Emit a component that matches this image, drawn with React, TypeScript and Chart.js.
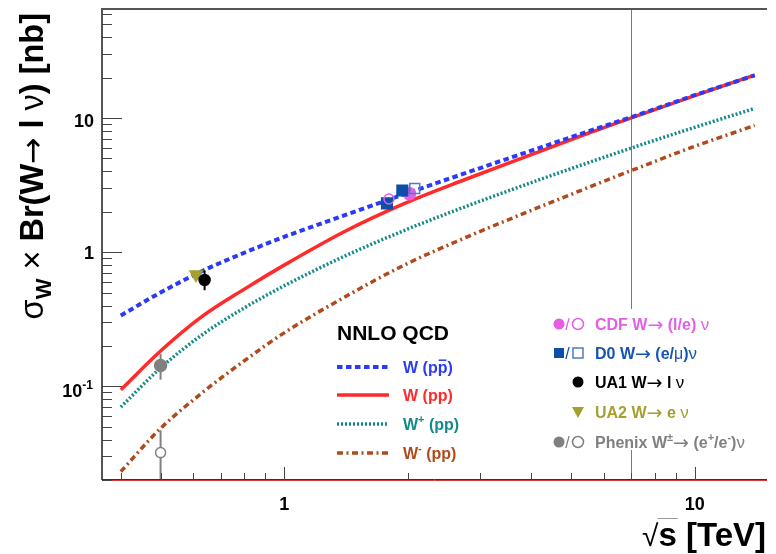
import React, { useEffect, useRef } from "react";
import { Chart, registerables } from "chart.js";
Chart.register(...registerables);

// ---- data ----
const sqrtS = [0.4, 0.5, 0.63, 0.8, 1.0, 1.4, 1.96, 2.76, 4, 5.5, 7.5, 10, 14];
const wPPbar = [0.337, 0.5, 0.72, 0.99, 1.3, 1.88, 2.7, 3.88, 5.71, 7.95, 10.9, 14.8, 20.8];
const wPP = [0.094, 0.183, 0.33, 0.53, 0.8, 1.42, 2.3, 3.48, 5.33, 7.7, 10.8, 14.7, 20.9];
const wPlus = [0.07, 0.137, 0.241, 0.384, 0.561, 0.93, 1.45, 2.18, 3.3, 4.64, 6.4, 8.52, 11.8];
const wMinus = [0.0231, 0.0485, 0.089, 0.155, 0.25, 0.46, 0.8, 1.28, 2.05, 3.03, 4.4, 6.15, 8.8];

const cdfFilledX = [2.02];
const cdfFilledY = [2.72];
const cdfOpenX = [1.8];
const cdfOpenY = [2.49];
const d0FilledX = [1.78, 1.94];
const d0FilledY = [2.31, 2.88];
const d0OpenX = [2.08];
const d0OpenY = [2.98];
const ua1X = [0.64];
const ua1Y = [0.62];
const ua1Lo = [0.52];
const ua1Hi = [0.73];
const ua2X = [0.61];
const ua2Y = [0.68];
const phenixFilledX = [0.5];
const phenixFilledY = [0.143];
const phenixFilledLo = [0.112];
const phenixFilledHi = [0.174];
const phenixOpenX = [0.5];
const phenixOpenY = [0.032];
const phenixOpenLo = [0.015];
const phenixOpenHi = [0.047];

const lhcEnergy = 7;
const xMin = 0.36;
const xMax = 15;
const yMin = 0.02;
const yMax = 65;
const xMajor = [1, 10];
const yMajor = [0.1, 1, 10];

// ---- styles ----
const SANS = '"Liberation Sans", Arial, Helvetica, sans-serif';
const SYMF = '"DejaVu Sans", sans-serif';
const C_BLUE = "#2b3bf5";
const C_RED = "#ff2a2a";
const C_TEAL = "#168a8a";
const C_BROWN = "#b04a1c";
const C_CDF = "#e25fe6";
const C_D0 = "#0d4fa8";
const C_D0_OPEN = "#4d7dc4";
const C_D0_TEXT = "#1753b3";
const C_UA2 = "#a5a02e";
const C_PHENIX = "#808080";

const DASH_BLUE = [5.5, 3.5];
const DASH_TEAL = [2, 2];
const DASH_BROWN = [6, 3.5, 2, 3.5];

type Run = { t: string; size: number; bold?: boolean; dy?: number; color?: string; over?: boolean; family?: string };

function fontOf(r: Run) {
  return `${r.bold === false ? "" : "bold "}${r.size}px ${r.family || SANS}`;
}

function runsWidth(ctx: CanvasRenderingContext2D, runs: Run[]) {
  let w = 0;
  for (const r of runs) {
    ctx.font = fontOf(r);
    w += ctx.measureText(r.t).width;
  }
  return w;
}

function drawRuns(ctx: CanvasRenderingContext2D, runs: Run[], x: number, y: number, color: string) {
  let cx = x;
  ctx.textBaseline = "alphabetic";
  ctx.textAlign = "left";
  for (const r of runs) {
    ctx.font = fontOf(r);
    ctx.fillStyle = r.color || color;
    ctx.fillText(r.t, cx, y + (r.dy || 0));
    const w = ctx.measureText(r.t).width;
    if (r.over) {
      ctx.save();
      ctx.strokeStyle = r.color || color;
      ctx.lineWidth = 1.5;
      ctx.beginPath();
      ctx.moveTo(cx + 1, y + (r.dy || 0) - r.size * 0.8);
      ctx.lineTo(cx + w - 1, y + (r.dy || 0) - r.size * 0.8);
      ctx.stroke();
      ctx.restore();
    }
    cx += w;
  }
  return cx - x;
}

function pts(xs: number[], ys: number[]) {
  return xs.map((x, i) => ({ x, y: ys[i] }));
}

function drawMarker(ctx: CanvasRenderingContext2D, kind: string, x: number, y: number, color: string) {
  ctx.save();
  ctx.fillStyle = color;
  ctx.strokeStyle = color;
  ctx.lineWidth = 1.5;
  ctx.beginPath();
  if (kind === "circle") {
    ctx.arc(x, y, 5.5, 0, Math.PI * 2);
    ctx.fill();
  } else if (kind === "ocircle") {
    ctx.arc(x, y, 5.5, 0, Math.PI * 2);
    ctx.stroke();
  } else if (kind === "square") {
    ctx.rect(x - 5, y - 5, 10, 10);
    ctx.fill();
  } else if (kind === "osquare") {
    ctx.rect(x - 5, y - 5, 10, 10);
    ctx.stroke();
  } else if (kind === "tri") {
    ctx.moveTo(x - 6, y - 5);
    ctx.lineTo(x + 6, y - 5);
    ctx.lineTo(x, y + 6);
    ctx.closePath();
    ctx.fill();
  }
  ctx.restore();
}

const rootPlugin = {
  id: "rootStyle",
  beforeDatasetsDraw(chart: any) {
    const { ctx, chartArea, scales } = chart;
    const px = Math.round(scales.x.getPixelForValue(lhcEnergy)) + 0.5;
    ctx.save();
    ctx.strokeStyle = "#7a7a7a";
    ctx.lineWidth = 1;
    ctx.beginPath();
    ctx.moveTo(px, chartArea.top);
    ctx.lineTo(px, chartArea.bottom);
    ctx.stroke();
    ctx.restore();
  },
  beforeDatasetDraw(chart: any, args: any) {
    const ds = chart.data.datasets[args.index];
    if (!ds.errLo) return;
    const { ctx, chartArea, scales } = chart;
    ctx.save();
    ctx.beginPath();
    ctx.rect(chartArea.left, chartArea.top, chartArea.right - chartArea.left, chartArea.bottom - chartArea.top);
    ctx.clip();
    ctx.strokeStyle = ds.errColor;
    ctx.lineWidth = 2;
    ds.data.forEach((p: any, i: number) => {
      const x = scales.x.getPixelForValue(p.x);
      ctx.beginPath();
      ctx.moveTo(x, scales.y.getPixelForValue(ds.errLo[i]));
      ctx.lineTo(x, scales.y.getPixelForValue(ds.errHi[i]));
      ctx.stroke();
    });
    ctx.restore();
  },
  afterDraw(chart: any) {
    const { ctx, chartArea, scales } = chart;
    const xs = scales.x;
    const ys = scales.y;
    const L = chartArea.left;
    const T = chartArea.top;
    const B = chartArea.bottom;
    const R = chartArea.right;
    ctx.save();

    // frame
    ctx.strokeStyle = "#555";
    ctx.lineWidth = 2;
    ctx.beginPath();
    ctx.moveTo(L, B);
    ctx.lineTo(L, T);
    ctx.lineTo(R, T);
    ctx.stroke();
    ctx.lineWidth = 1;
    ctx.strokeStyle = "#333";
    ctx.beginPath();
    ctx.moveTo(L, B - 0.5);
    ctx.lineTo(R, B - 0.5);
    ctx.stroke();
    ctx.strokeStyle = "#d43a3a";
    ctx.beginPath();
    ctx.moveTo(L, B + 0.5);
    ctx.lineTo(R, B + 0.5);
    ctx.stroke();

    // y ticks
    ctx.strokeStyle = "#444";
    ctx.lineWidth = 1;
    for (let d = -2; d <= 1; d++) {
      for (let m = 1; m <= 9; m++) {
        const v = m * Math.pow(10, d);
        if (v < yMin || v > yMax) continue;
        const py = Math.round(ys.getPixelForValue(v)) + 0.5;
        const len = m === 1 ? 20 : 10;
        ctx.beginPath();
        ctx.moveTo(L, py);
        ctx.lineTo(L + len, py);
        ctx.stroke();
      }
    }
    // x ticks
    for (let d = -1; d <= 1; d++) {
      for (let m = 1; m <= 9; m++) {
        const v = m * Math.pow(10, d);
        if (v < xMin || v > xMax) continue;
        const px = Math.round(xs.getPixelForValue(v)) + 0.5;
        const len = m === 1 ? 13 : 7;
        ctx.beginPath();
        ctx.moveTo(px, B);
        ctx.lineTo(px, B - len);
        ctx.stroke();
      }
    }

    // tick labels
    ctx.fillStyle = "#000";
    ctx.textBaseline = "alphabetic";
    ctx.font = `bold 18px ${SANS}`;
    const yLab = (v: number) => ys.getPixelForValue(v);
    ctx.textAlign = "right";
    ctx.fillText("10", 94, yLab(yMajor[2]) + 9);
    ctx.fillText("1", 94, yLab(yMajor[1]) + 7);
    {
      const runs: Run[] = [
        { t: "10", size: 18 },
        { t: "-1", size: 12, dy: -8 },
      ];
      const w = runsWidth(ctx, runs);
      drawRuns(ctx, runs, 93 - w, yLab(yMajor[0]) + 11, "#000");
    }
    ctx.textAlign = "center";
    ctx.font = `bold 18px ${SANS}`;
    ctx.fillStyle = "#000";
    ctx.fillText("1", xs.getPixelForValue(xMajor[0]), 510);
    ctx.fillText("10", xs.getPixelForValue(xMajor[1]), 510);

    // y title (rotated)
    {
      const S = 32.5;
      const runs: Run[] = [
        { t: "σ", size: S, bold: false },
        { t: "W", size: 22, dy: 8 },
        { t: " × ", size: S, bold: false },
        { t: "Br(W", size: S },
        { t: "→", size: S - 1, bold: false, family: SYMF },
        { t: " l ", size: S },
        { t: "ν", size: S, bold: false },
        { t: ") [nb]", size: S },
      ];
      const w = runsWidth(ctx, runs);
      ctx.save();
      ctx.translate(43, 13 + w);
      ctx.rotate(-Math.PI / 2);
      drawRuns(ctx, runs, 0, 0, "#000");
      ctx.restore();
    }

    // x title
    {
      const runs: Run[] = [
        { t: "√", size: 30, bold: false },
        { t: "s [TeV]", size: 33 },
      ];
      const w = runsWidth(ctx, runs);
      const x0 = 766 - w;
      drawRuns(ctx, runs, x0, 546, "#000");
      ctx.font = `30px ${SANS}`;
      const sw = ctx.measureText("√").width;
      ctx.font = `bold 33px ${SANS}`;
      const ssw = ctx.measureText("s").width;
      ctx.strokeStyle = "#999";
      ctx.lineWidth = 1;
      ctx.beginPath();
      ctx.moveTo(x0 + sw - 1, 518.5);
      ctx.lineTo(x0 + sw + ssw + 1, 518.5);
      ctx.stroke();
    }

    // left legend (theory)
    drawRuns(ctx, [{ t: "NNLO QCD", size: 21 }], 337, 340, "#000");
    const theo = [
      { y: 367, color: C_BLUE, dash: DASH_BLUE, w: 4, runs: [{ t: "W (p", size: 16 }, { t: "p", size: 16, over: true }, { t: ")", size: 16 }] as Run[] },
      { y: 395, color: C_RED, dash: [] as number[], w: 3.5, runs: [{ t: "W (pp)", size: 16 }] as Run[] },
      { y: 424, color: C_TEAL, dash: DASH_TEAL, w: 3.5, runs: [{ t: "W", size: 16 }, { t: "+", size: 11, dy: -7 }, { t: " (pp)", size: 16 }] as Run[] },
      { y: 453, color: C_BROWN, dash: DASH_BROWN, w: 3.5, runs: [{ t: "W", size: 16 }, { t: "-", size: 11, dy: -7 }, { t: " (pp)", size: 16 }] as Run[] },
    ];
    for (const e of theo) {
      ctx.save();
      ctx.strokeStyle = e.color;
      ctx.lineWidth = e.w;
      ctx.setLineDash(e.dash);
      ctx.beginPath();
      ctx.moveTo(337, e.y);
      ctx.lineTo(389, e.y);
      ctx.stroke();
      ctx.restore();
      drawRuns(ctx, e.runs, 403, e.y + 6, e.color);
    }

    // right legend (data) with white background
    ctx.fillStyle = "#fff";
    ctx.fillRect(540, 309, 236, 141);
    const arrow: Run = { t: "→", size: 19, bold: false, family: SYMF, dy: 1 };
    const nu: Run = { t: "ν", size: 17, bold: false };
    const dataRows = [
      { y: 324, color: C_CDF, m1: "circle", m2: "ocircle", c1: C_CDF, c2: C_CDF, runs: [{ t: "CDF W", size: 16 }, arrow, { t: " (l/e) ", size: 16 }, nu] as Run[] },
      { y: 353, color: C_D0_TEXT, m1: "square", m2: "osquare", c1: C_D0, c2: C_D0_OPEN, runs: [{ t: "D0 W", size: 16 }, arrow, { t: " (e/", size: 16 }, { t: "μ", size: 16, bold: false }, { t: ")", size: 16 }, nu] as Run[] },
      { y: 382, color: "#000", m1: "", m2: "circle", c1: "#000", c2: "#000", runs: [{ t: "UA1 W", size: 16 }, arrow, { t: " l ", size: 16 }, nu] as Run[] },
      { y: 412, color: C_UA2, m1: "", m2: "tri", c1: C_UA2, c2: C_UA2, runs: [{ t: "UA2 W", size: 16 }, arrow, { t: " e ", size: 16 }, nu] as Run[] },
      { y: 442, color: C_PHENIX, m1: "circle", m2: "ocircle", c1: C_PHENIX, c2: C_PHENIX, runs: [{ t: "Phenix W", size: 16 }, { t: "±", size: 11, dy: -7 }, arrow, { t: " (e", size: 16 }, { t: "+", size: 11, dy: -7 }, { t: "/e", size: 16 }, { t: "-", size: 11, dy: -7 }, { t: ")", size: 16 }, nu] as Run[] },
    ];
    for (const r of dataRows) {
      if (r.m1) {
        drawMarker(ctx, r.m1, 559, r.y, r.c1);
        ctx.font = `16px ${SANS}`;
        ctx.fillStyle = r.c1;
        ctx.textAlign = "center";
        ctx.fillText("/", 567.5, r.y + 6);
        ctx.textAlign = "left";
      }
      drawMarker(ctx, r.m2, 578, r.y, r.c2);
      drawRuns(ctx, r.runs, 595, r.y + 6, r.color);
    }
    ctx.restore();
  },
};

function curve(ys: number[], color: string, width: number, dash: number[], order: number) {
  return {
    data: pts(sqrtS, ys),
    showLine: true,
    borderColor: color,
    borderWidth: width,
    borderDash: dash,
    pointRadius: 0,
    fill: false,
    cubicInterpolationMode: "monotone",
    order,
  };
}

function markers(xs: number[], ys: number[], style: string, r: number, fillC: string, strokeC: string, extra: any = {}) {
  return {
    data: pts(xs, ys),
    showLine: false,
    pointStyle: style,
    pointRadius: r,
    pointBackgroundColor: fillC,
    pointBorderColor: strokeC,
    pointBorderWidth: 1.5,
    order: 0,
    ...extra,
  };
}

export default function App() {
  const ref = useRef<HTMLCanvasElement>(null);
  useEffect(() => {
    document.body.style.margin = "0";
    const canvas = ref.current!;
    const datasets: any[] = [
      markers(ua1X, ua1Y, "circle", 5.5, "#000", "#000", { errLo: ua1Lo, errHi: ua1Hi, errColor: "#000" }),
      markers(ua2X, ua2Y, "triangle", 7, C_UA2, C_UA2, { pointRotation: 180 }),
      markers(phenixFilledX, phenixFilledY, "circle", 6, C_PHENIX, C_PHENIX, { errLo: phenixFilledLo, errHi: phenixFilledHi, errColor: C_PHENIX }),
      markers(phenixOpenX, phenixOpenY, "circle", 5, "#fff", C_PHENIX, { errLo: phenixOpenLo, errHi: phenixOpenHi, errColor: C_PHENIX }),
      markers(cdfOpenX, cdfOpenY, "circle", 5, "rgba(255,255,255,0)", C_CDF),
      markers(d0FilledX, d0FilledY, "rect", 7.5, C_D0, C_D0),
      markers(d0OpenX, d0OpenY, "rect", 7, "rgba(255,255,255,0)", C_D0_OPEN),
      markers(cdfFilledX, cdfFilledY, "circle", 6, C_CDF, C_CDF),
      curve(wPPbar, C_BLUE, 4, DASH_BLUE, 1),
      curve(wPP, C_RED, 3.5, [], 2),
      curve(wPlus, C_TEAL, 3.5, DASH_TEAL, 3),
      curve(wMinus, C_BROWN, 3.5, DASH_BROWN, 4),
    ];
    const chart = new Chart(canvas, {
      type: "scatter",
      data: { datasets },
      options: {
        animation: false,
        responsive: false,
        maintainAspectRatio: false,
        layout: { padding: { left: 102, top: 5, right: 0, bottom: 74 } },
        plugins: { legend: { display: false }, tooltip: { enabled: false } },
        scales: {
          x: { type: "logarithmic", min: xMin, max: xMax, display: false },
          y: { type: "logarithmic", min: yMin, max: yMax, display: false },
        },
      },
      plugins: [rootPlugin],
    } as any);
    return () => chart.destroy();
  }, []);
  return <canvas ref={ref} width={776} height={554} style={{ display: "block", width: 776, height: 554 }} />;
}
